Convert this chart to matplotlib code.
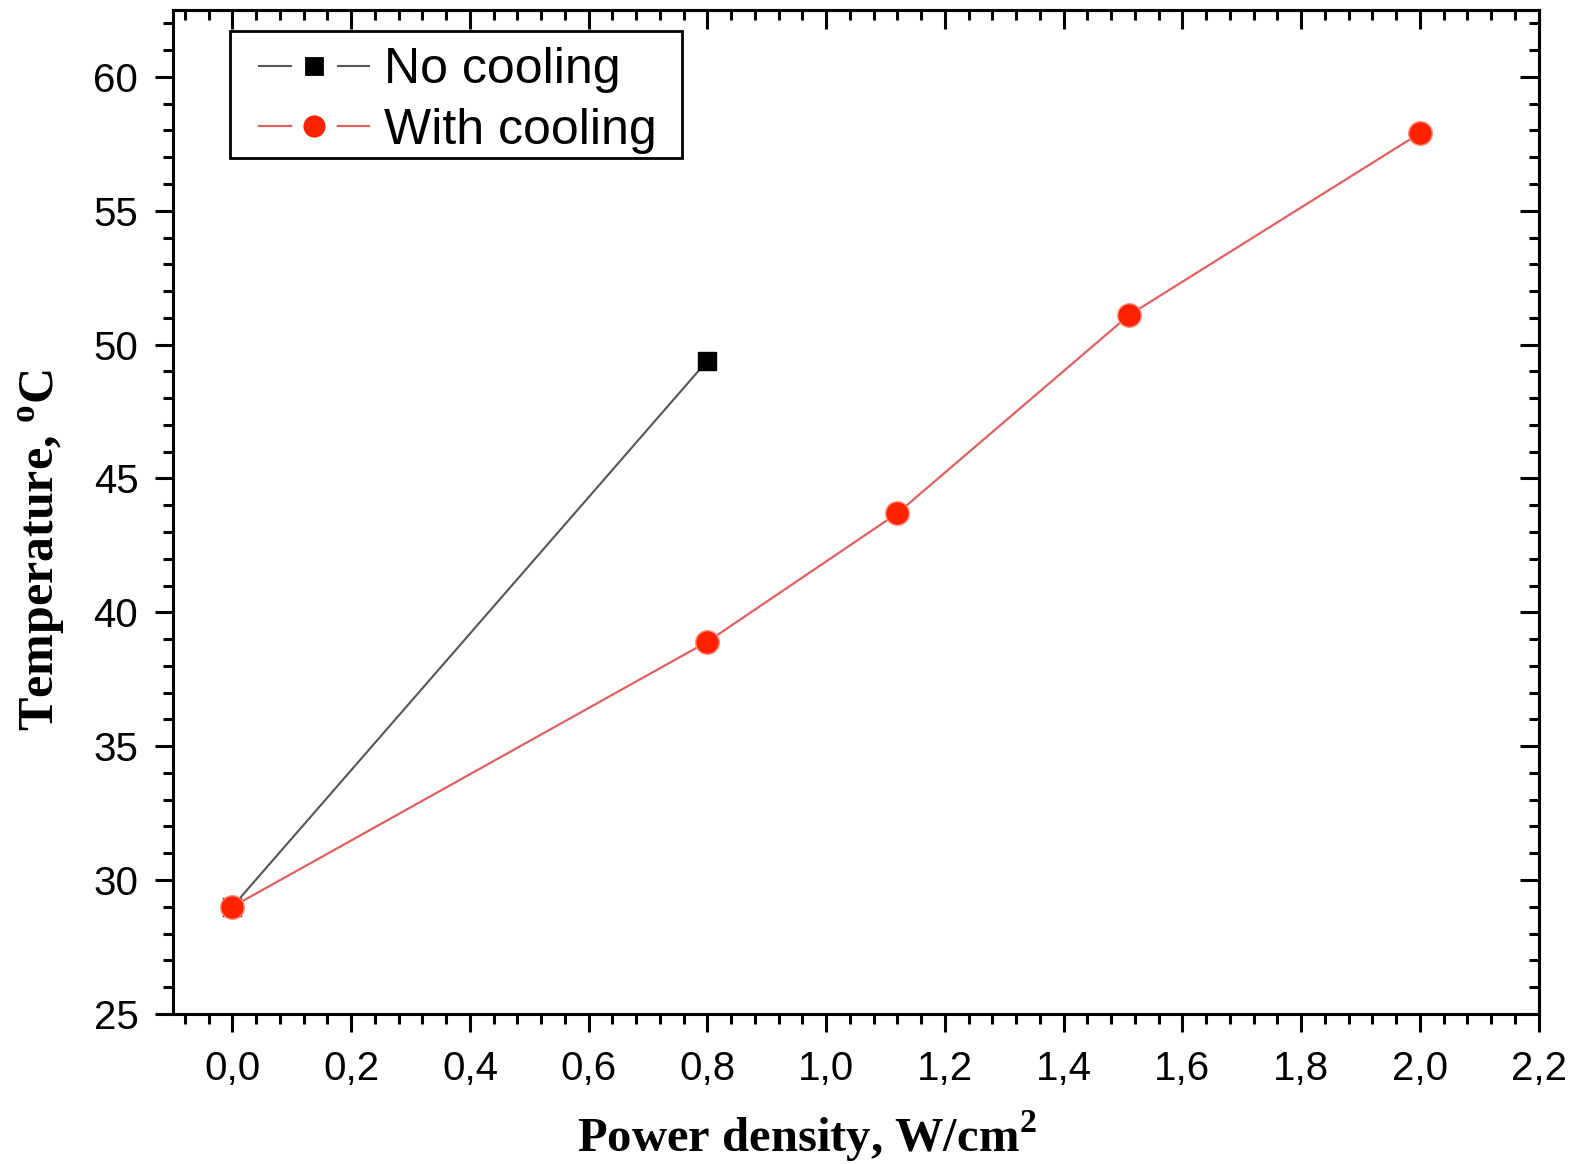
import matplotlib
matplotlib.use("Agg")
import matplotlib.pyplot as plt
from matplotlib.lines import Line2D
from matplotlib.patches import Rectangle
from matplotlib.ticker import MultipleLocator, FuncFormatter

# data
x_no_cooling = [0.0, 0.8]
t_no_cooling = [29.0, 49.4]
x_cooling = [0.0, 0.8, 1.12, 1.51, 2.0]
t_cooling = [29.0, 38.9, 43.7, 51.1, 57.9]

plt.rcParams["mathtext.fontset"] = "custom"
plt.rcParams["mathtext.rm"] = "Liberation Serif"
plt.rcParams["mathtext.bf"] = "Liberation Serif:bold"

fig = plt.figure(figsize=(15.77, 11.64), dpi=100)
ax = fig.add_axes([0.1097, 0.129, 0.866, 0.8624])

ax.plot(x_no_cooling, t_no_cooling, color="#555555", lw=1.5, marker="s",
        ms=13, mfc="black", mec="black")
ax.plot(x_cooling, t_cooling, color="#e06060", lw=1.6, marker="o",
        ms=17, mfc="#ff2200", mec="#ff9080", mew=1)

ax.set_xlim(-0.1, 2.2)
ax.set_ylim(25, 62.5)
ax.xaxis.set_major_locator(MultipleLocator(0.2))
ax.xaxis.set_minor_locator(MultipleLocator(0.04))
ax.yaxis.set_major_locator(MultipleLocator(5))
ax.yaxis.set_minor_locator(MultipleLocator(1))
ax.xaxis.set_major_formatter(FuncFormatter(lambda v, p: f"{v:.1f}".replace(".", ",")))

for s in ax.spines.values():
    s.set_linewidth(2.2)

ax.tick_params(which="both", direction="out", width=2.2, labelsize=29,
               top=False, right=False)
ax.tick_params(which="major", length=13)
ax.tick_params(which="minor", length=7)
ax.tick_params(axis="x", which="major", pad=13)
ax.tick_params(axis="y", which="major", pad=12)
for lab in ax.get_xticklabels() + ax.get_yticklabels():
    lab.set_fontfamily("Liberation Sans")

# inward ticks on top and right
sec_x = ax.secondary_xaxis("top")
sec_x.xaxis.set_major_locator(MultipleLocator(0.2))
sec_x.xaxis.set_minor_locator(MultipleLocator(0.04))
sec_x.tick_params(which="both", direction="in", width=2.2, labeltop=False)
sec_x.tick_params(which="major", length=14)
sec_x.tick_params(which="minor", length=7)
sec_x.spines["top"].set_linewidth(2.2)
sec_y = ax.secondary_yaxis("right")
sec_y.yaxis.set_major_locator(MultipleLocator(5))
sec_y.yaxis.set_minor_locator(MultipleLocator(1))
sec_y.tick_params(which="both", direction="in", width=2.2, labelright=False)
sec_y.tick_params(which="major", length=14)
sec_y.tick_params(which="minor", length=7)
sec_y.spines["right"].set_linewidth(2.2)

ax.set_xlabel(r"Power density, W/cm$^{\mathbf{2}}$", fontsize=35, fontweight="bold",
              fontfamily="Liberation Serif", labelpad=15)
ax.set_ylabel(r"Temperature, $^{\mathbf{o}}$C", fontsize=36, fontweight="bold",
              fontfamily="Liberation Serif", labelpad=18)
ax.xaxis.label.set_x(0.464)
ax.yaxis.label.set_y(0.462)

# legend frame drawn separately so the inner padding can match
ax.add_patch(Rectangle((0.0417, 0.8526), 0.3309, 0.1264, transform=ax.transAxes,
                       fill=True, facecolor="white", edgecolor="black", lw=2,
                       zorder=4))

# legend handles: white marker edge leaves a gap in the line
handles = [
    Line2D([], [], color="#555555", lw=1.5, marker="s", ms=22.5, mfc="black",
           mec="white", mew=9.5),
    Line2D([], [], color="#e06060", lw=1.6, marker="o", ms=24, mfc="#ff2200",
           mec="white", mew=8),
]
leg = ax.legend(handles, ["No cooling", "With cooling"], loc="upper left",
                bbox_to_anchor=(0.063, 0.963), borderaxespad=0, borderpad=0,
                frameon=False, handlelength=2.2, handletextpad=0.3,
                labelspacing=0.29, prop={"family": "Liberation Sans", "size": 36})
leg.set_zorder(5)

fig.savefig("out.png", dpi=100)
